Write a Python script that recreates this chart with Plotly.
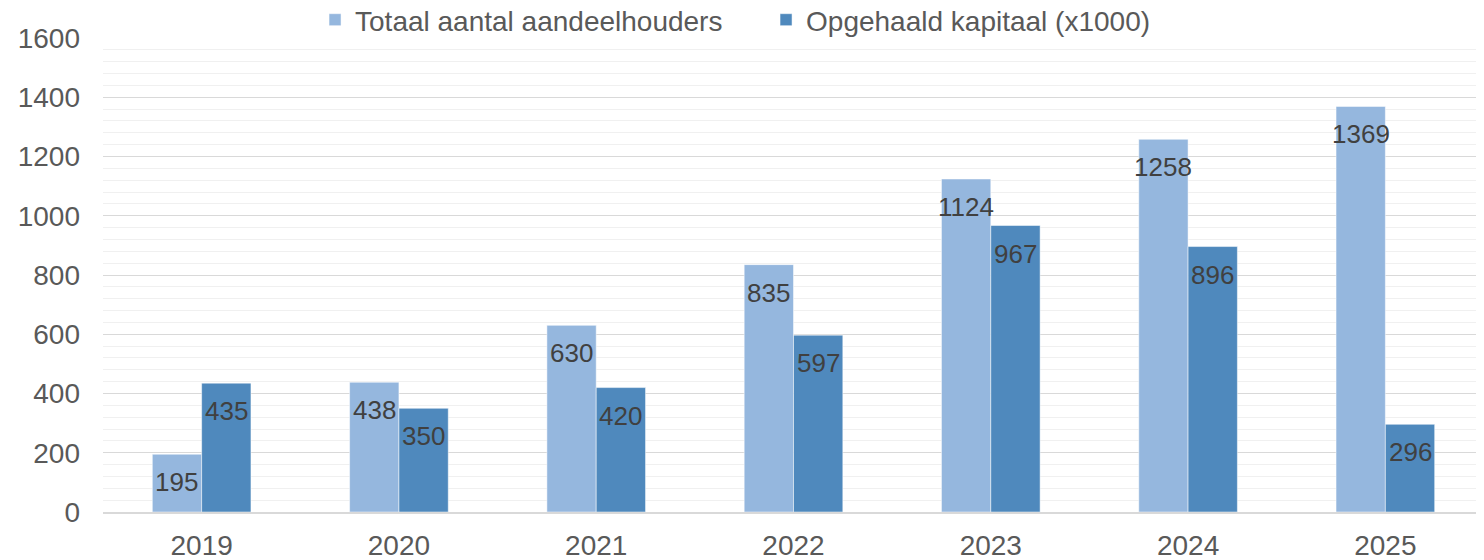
import plotly.graph_objects as go

years = ["2019", "2020", "2021", "2022", "2023", "2024", "2025"]
aandeelhouders = [195, 438, 630, 835, 1124, 1258, 1369]
kapitaal = [435, 350, 420, 597, 967, 896, 296]

light = "#95B7DE"
dark = "#4F89BD"
font = "Liberation Sans, Arial, sans-serif"
fs = 28
lfs = 26

fig = go.Figure()
fig.add_trace(go.Bar(
    x=years, y=aandeelhouders, name="Totaal aantal aandeelhouders",
    marker=dict(color=light, line=dict(color="white", width=0.5)),
))
fig.add_trace(go.Bar(
    x=years, y=kapitaal, name="Opgehaald kapitaal (x1000)",
    marker=dict(color=dark, line=dict(color="white", width=0.5)),
))

# value labels inside the top of each bar
L, R, T, B = 95, 8, 30, 56
plot_w = 1484 - L - R
plot_h = 560 - T - B
cat_w = plot_w / len(years)
bargap = 0.5
bar_w = cat_w * (1 - bargap) / 2
annotations = []
for series, sign in ((aandeelhouders, -1), (kapitaal, 1)):
    for i, v in enumerate(series):
        annotations.append(dict(
            x=i, y=v, xref="x", yref="y", text=str(v), showarrow=False,
            xshift=sign * bar_w / 2, yshift=-28, yanchor="middle",
            font=dict(family=font, size=lfs, color="#404040"),
        ))

fig.update_layout(
    width=1484, height=560,
    margin=dict(l=L, r=R, t=T, b=B, autoexpand=False),
    paper_bgcolor="white", plot_bgcolor="white",
    barmode="group", bargap=bargap, bargroupgap=0,
    font=dict(family=font, size=fs, color="#595959"),
    legend=dict(orientation="h", xref="container", x=0.2069, xanchor="left",
                yref="paper", y=1 + 43 / plot_h, yanchor="top",
                font=dict(family=font, size=fs, color="#595959"),
                entrywidth=406, entrywidthmode="pixels",
                itemwidth=30, tracegroupgap=0, bgcolor="rgba(0,0,0,0)"),
    showlegend=True,
    annotations=annotations,
)
fig.update_xaxes(
    type="category",
    showgrid=False, showline=True, linecolor="#D9D9D9", linewidth=1.5,
    ticks="", ticklabelstandoff=8,
    tickfont=dict(family=font, size=fs, color="#595959"),
    automargin=False,
)
fig.update_yaxes(
    range=[0, 1600], dtick=200, showgrid=True, gridcolor="#D9D9D9", gridwidth=1,
    minor=dict(dtick=40, showgrid=True, gridcolor="#F0F0F0", gridwidth=1),
    zeroline=False, showline=False, ticks="", ticklabelstandoff=22,
    tickfont=dict(family=font, size=fs, color="#595959"),
    automargin=False,
)

fig.write_html("out.html")
